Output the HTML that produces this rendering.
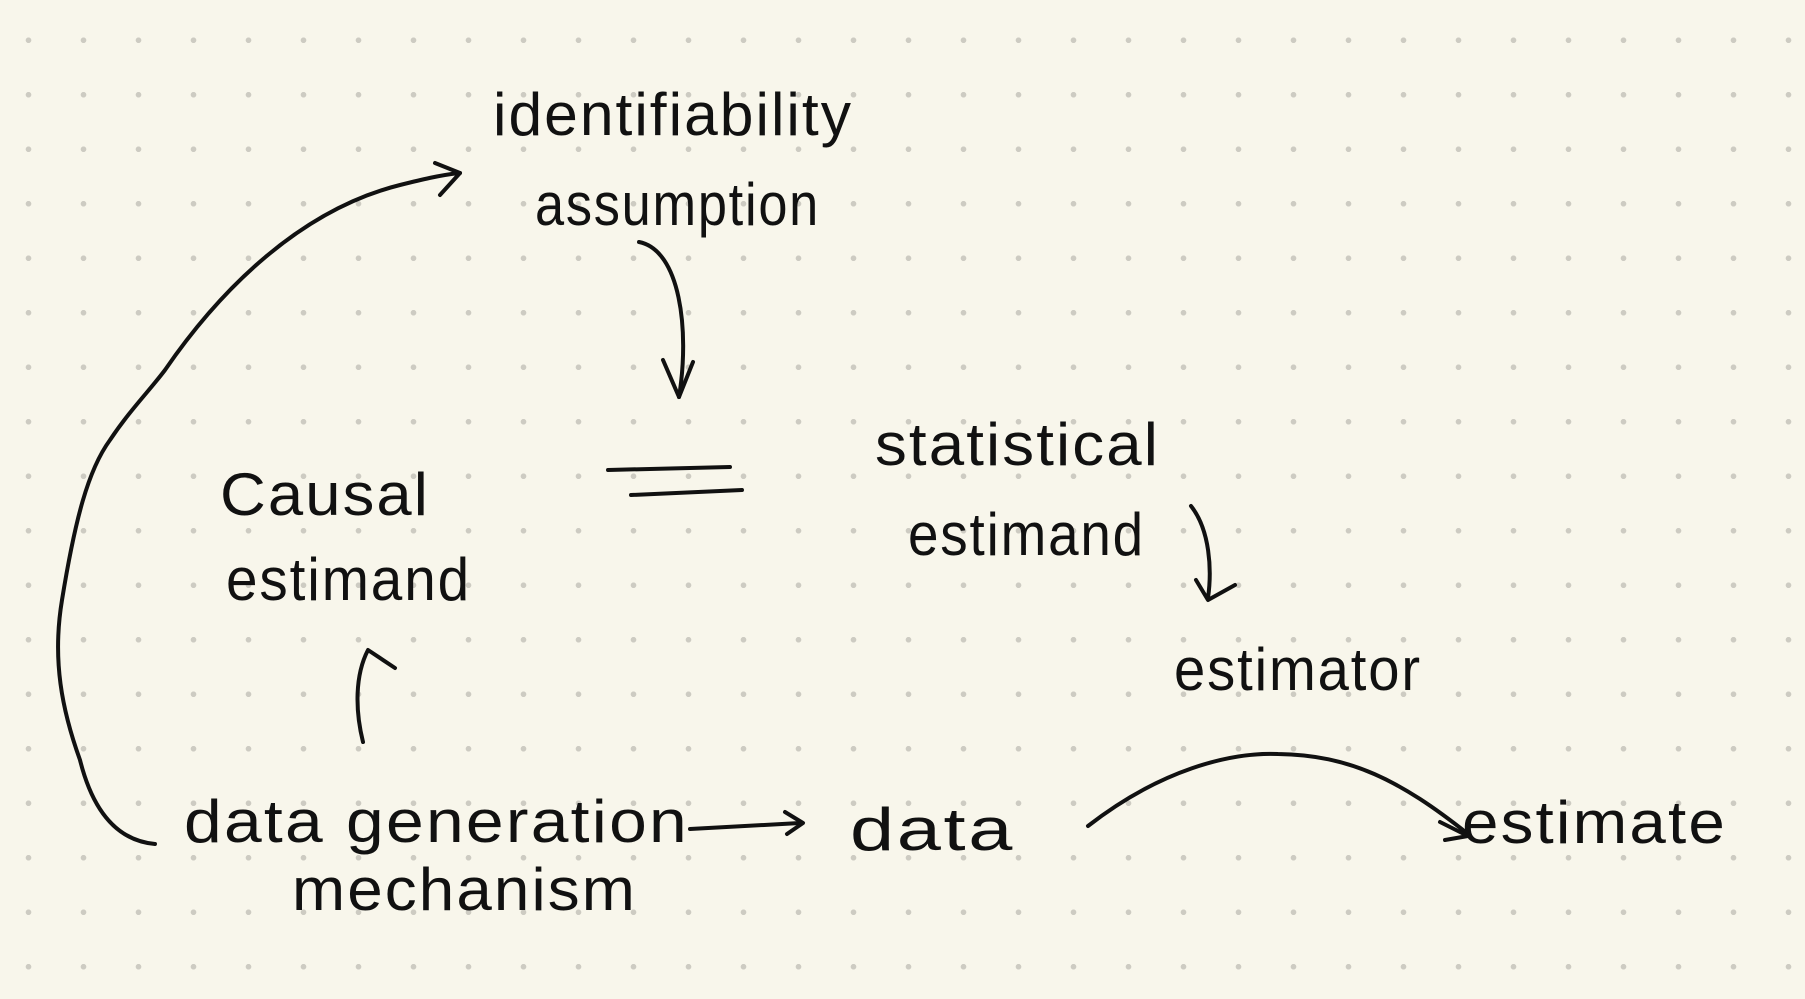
<!DOCTYPE html>
<html><head><style>
body{margin:0;width:1805px;height:999px;overflow:hidden;background-color:#f8f6eb;
background-image:radial-gradient(circle,#cdcbc2 2.6px,transparent 3px);background-size:55px 54.5px;background-position:1px 13px;}
svg{position:absolute;left:0;top:0}
text{font-family:"Liberation Sans",sans-serif;fill:#111;font-size:60px;letter-spacing:2px}
</style></head><body>
<svg width="1805" height="999" viewBox="0 0 1805 999" fill="none" stroke="#111" stroke-width="4" stroke-linecap="round" stroke-linejoin="round">
<g stroke="none">
<text x="493" y="135" textLength="360" lengthAdjust="spacingAndGlyphs">identifiability</text>
<text x="535" y="225" textLength="285" lengthAdjust="spacingAndGlyphs">assumption</text>
<text x="220" y="515" textLength="210" lengthAdjust="spacingAndGlyphs">Causal</text>
<text x="226" y="600" textLength="245" lengthAdjust="spacingAndGlyphs">estimand</text>
<text x="875" y="465" textLength="285" lengthAdjust="spacingAndGlyphs">statistical</text>
<text x="908" y="555" textLength="237" lengthAdjust="spacingAndGlyphs">estimand</text>
<text x="1174" y="690" textLength="248" lengthAdjust="spacingAndGlyphs">estimator</text>
<text x="184" y="842" textLength="505" lengthAdjust="spacingAndGlyphs" font-size="66">data generation</text>
<text x="292" y="910" textLength="345" lengthAdjust="spacingAndGlyphs" font-size="66">mechanism</text>
<text x="850" y="850" textLength="165" lengthAdjust="spacingAndGlyphs" font-size="72">data</text>
<text x="1462" y="843" textLength="265" lengthAdjust="spacingAndGlyphs" font-size="66">estimate</text>
</g>
<path d="M639 242 C680 250 690 330 679 397"/><path d="M663 360 L679 397 L693 362"/>
<path d="M608 470 L730 467"/><path d="M631 495 L742 490"/>
<path d="M1191 506 C1210 530 1212 570 1208 598"/><path d="M1196 580 L1208 600 L1235 585"/>
<path d="M363 742 C355 710 355 675 368 650 L395 668"/>
<path d="M690 829 L800 823"/><path d="M785 812 L803 823 L787 834"/>
<path d="M1088 826 C1160 770 1230 752 1278 754 C1350 755 1400 780 1468 834"/><path d="M1440 822 L1468 836 L1445 840"/>
<path d="M155 844 C110 840 90 800 80 760 C62 710 52 660 62 600 C75 520 88 470 110 440 C130 410 150 390 165 370 C220 290 300 210 400 185 C420 180 440 175 460 173"/><path d="M435 163 L460 173 L440 195"/>
</svg>
</body></html>
